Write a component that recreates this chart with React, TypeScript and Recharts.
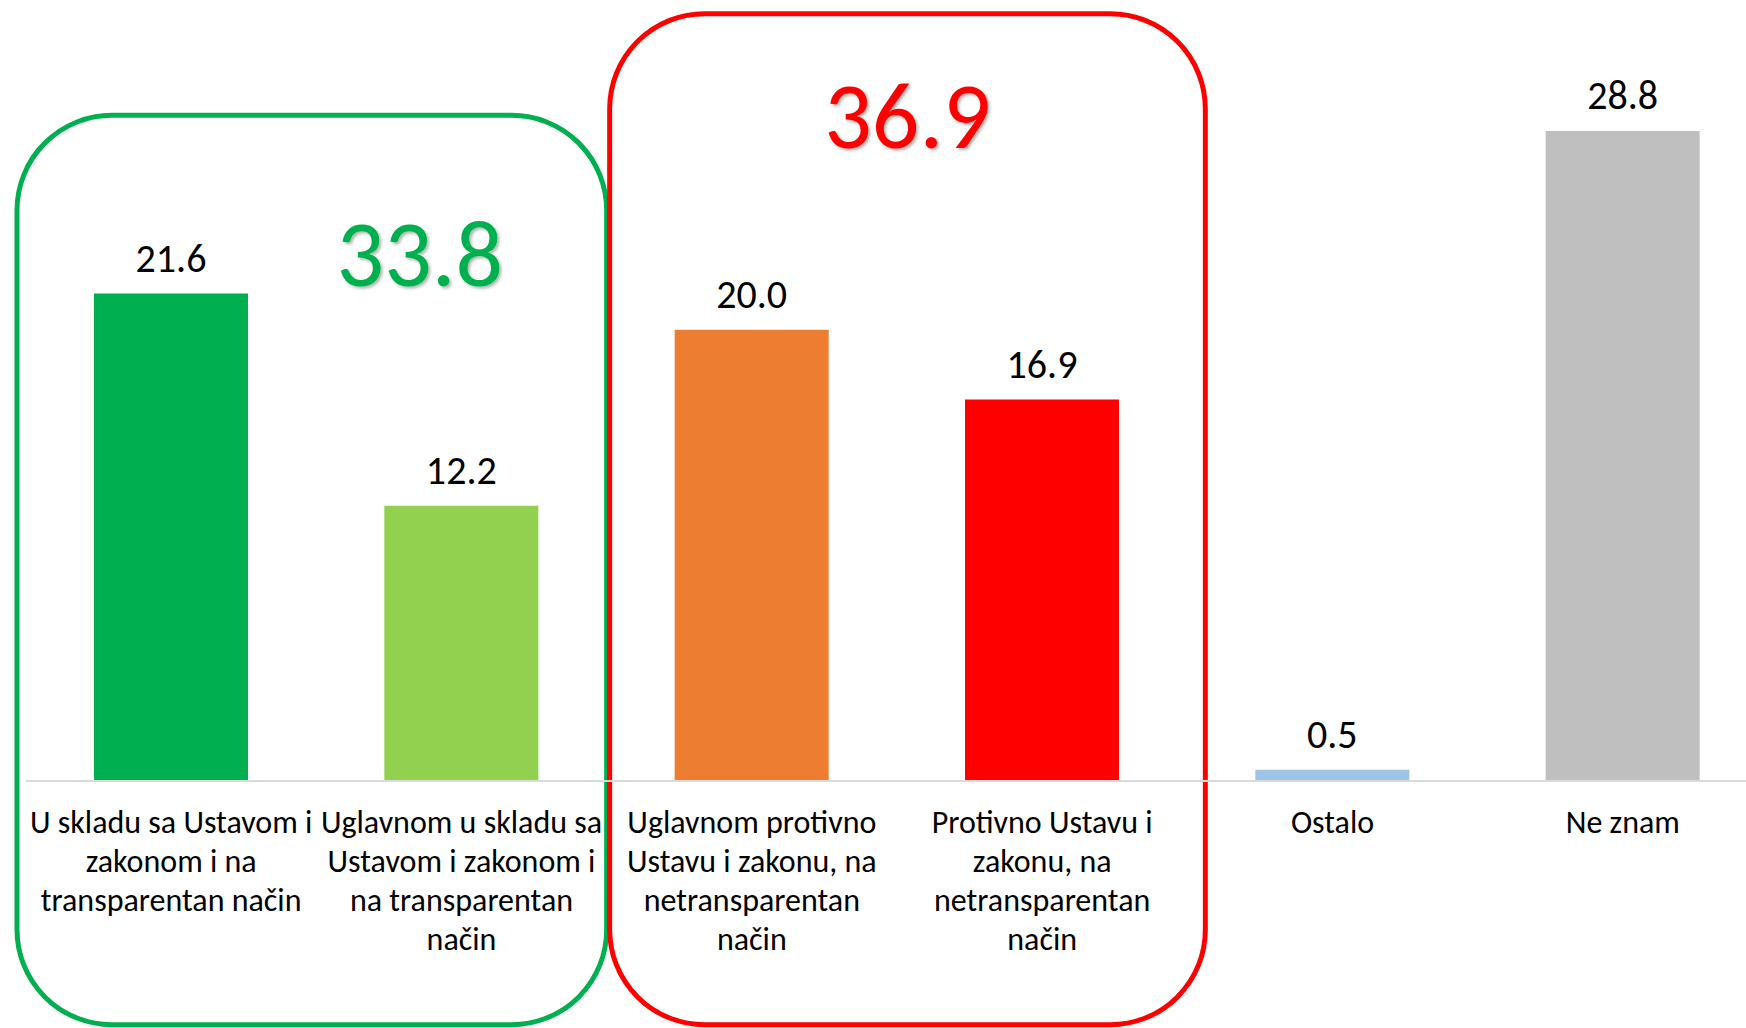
import React from 'react';
import { BarChart, Bar, XAxis, YAxis, Cell, LabelList, ReferenceArea } from 'recharts';

// categories (line breaks as in the original axis labels)
const categories = [
  'U skladu sa Ustavom i\nzakonom i na\ntransparentan način',
  'Uglavnom u skladu sa\nUstavom i zakonom i\nna transparentan\nnačin',
  'Uglavnom protivno\nUstavu i zakonu, na\nnetransparentan\nnačin',
  'Protivno Ustavu i\nzakonu, na\nnetransparentan\nnačin',
  'Ostalo',
  'Ne znam',
];
const values = [21.6, 12.2, 20.0, 16.9, 0.5, 28.8];
const barColors = ['#00B050', '#92D050', '#ED7D31', '#FF0000', '#9DC3E6', '#BFBFBF'];

// grouped totals shown in the rounded boxes
const groupTotals = ['33.8', '36.9'];
const groupColors = ['#00B050', '#FF0000'];

const FONT = 'Carlito, Calibri, Lato, "Open Sans", sans-serif';

const chartData = categories.map((name, i) => ({ name, value: values[i] }));

function CategoryTick({ x, y, payload }: any) {
  const lines = String(payload.value).split('\n');
  return (
    <text x={x} y={y} textAnchor="middle" fontFamily={FONT} fontSize={32} fill="#000">
      {lines.map((line, i) => (
        <tspan key={i} x={x} dy={i === 0 ? 52 : 39}>
          {line}
        </tspan>
      ))}
    </text>
  );
}

function GroupBox({ x, y, width, height, color, total, padL, padR, labelDx, labelDy }: any) {
  const left = x + padL;
  const w = width - padL + padR;
  return (
    <g>
      <rect x={left} y={y} width={w} height={height} rx={95} ry={95} fill="none" stroke={color} strokeWidth={5} />
      <text
        x={left + w / 2 + labelDx}
        y={y + labelDy}
        textAnchor="middle"
        fontFamily={FONT}
        fontSize={94}
        fill={color}
        filter="url(#txtShadow)"
      >
        {total}
      </text>
    </g>
  );
}

export default function App() {
  return (
    <div style={{ position: 'absolute', left: 0, top: 0, width: 1746, height: 1028, overflow: 'hidden', background: '#fff' }}>
      <BarChart
        width={1770}
        height={1028}
        data={chartData}
        margin={{ top: 104, right: 2, left: 26, bottom: 0 }}
        barCategoryGap={0}
      >
        <defs>
          <filter id="txtShadow" x="-10%" y="-10%" width="130%" height="130%">
            <feDropShadow dx="2" dy="2" stdDeviation="1.5" floodColor="#000" floodOpacity="0.3" />
          </filter>
        </defs>
        <XAxis
          dataKey="name"
          interval={0}
          height={247}
          tickLine={false}
          tickSize={0}
          tickMargin={0}
          axisLine={{ stroke: '#D9D9D9', strokeWidth: 2 }}
          tick={<CategoryTick />}
        />
        <YAxis hide domain={[0, 30]} />
        <Bar dataKey="value" barSize={154} isAnimationActive={false}>
          {chartData.map((d, i) => (
            <Cell key={d.name} fill={barColors[i]} />
          ))}
          <LabelList
            dataKey="value"
            position="top"
            offset={22}
            fontSize={40}
            fontFamily={FONT}
            fill="#000"
            formatter={(v: any) => Number(v).toFixed(1)}
          />
        </Bar>
        <ReferenceArea
          x1={categories[0]}
          x2={categories[1]}
          y1={-10.8}
          y2={29.5}
          ifOverflow="visible"
          shape={(p: any) => (
            <GroupBox {...p} color={groupColors[0]} total={groupTotals[0]} padL={-9} padR={0} labelDx={108} labelDy={171} />
          )}
        />
        <ReferenceArea
          x1={categories[2]}
          x2={categories[3]}
          y1={-10.8}
          y2={34.0}
          ifOverflow="visible"
          shape={(p: any) => (
            <GroupBox {...p} color={groupColors[1]} total={groupTotals[1]} padL={3} padR={18} labelDx={0} labelDy={134} />
          )}
        />
      </BarChart>
    </div>
  );
}
